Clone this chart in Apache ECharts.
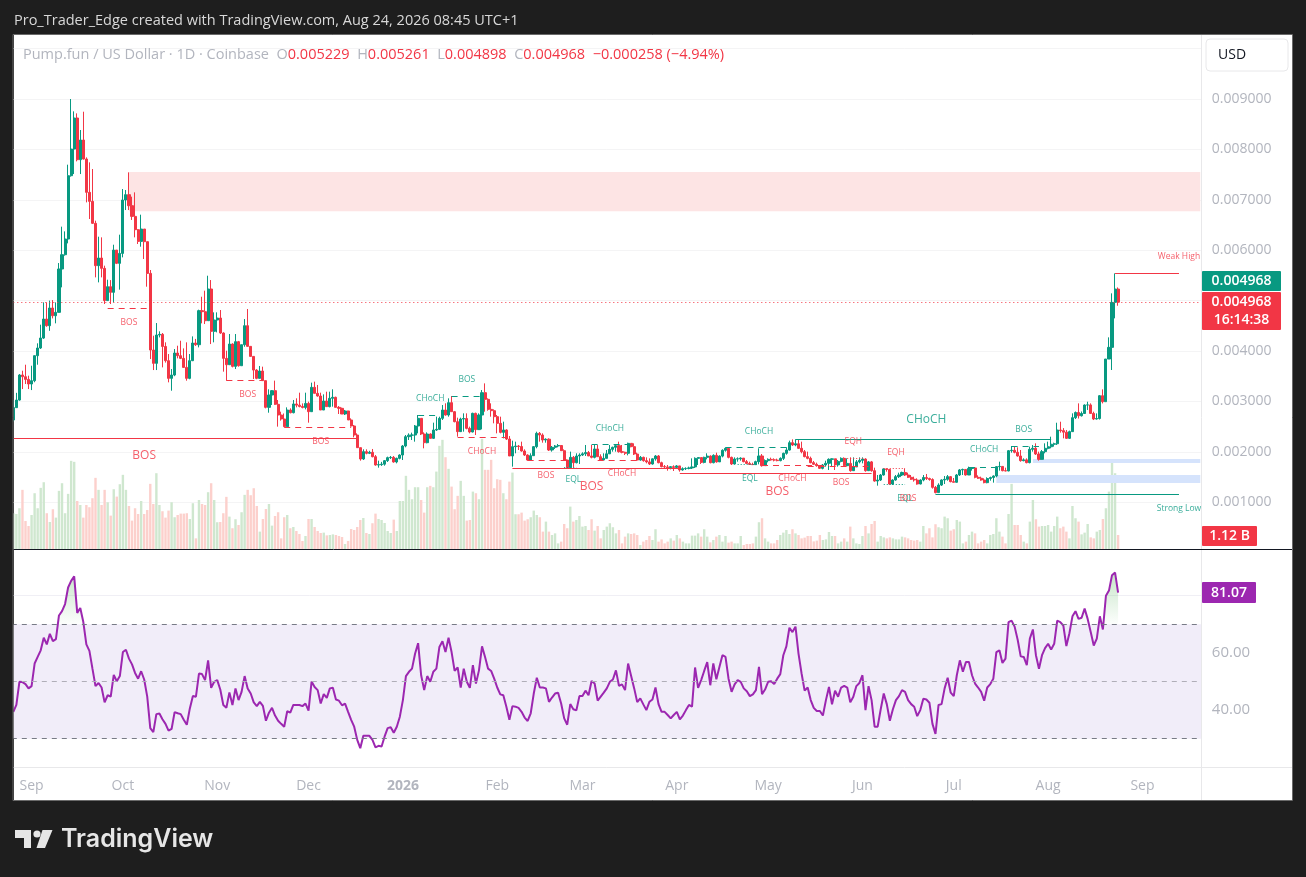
<!DOCTYPE html>
<html><head><meta charset="utf-8">
<style>html,body{margin:0;padding:0;background:#1e1e1e}#c{width:1306px;height:877px}</style>
<script src="https://cdn.jsdelivr.net/npm/echarts@6/dist/echarts.min.js"></script>
</head><body><div id="c"></div>
<script>
// Values. Prices are in millionths of a US dollar; volumes in billions.
const firstOpenMicro = 2631;
const closesMicro = [2876,3027,3524,3490,3437,3345,3411,3907,4059,4257,4634,4502,4853,4700,4767,5627,5911,6222,7478,8007,8623,7796,8186,7809,7148,6969,6533,5693,5845,5640,5000,5276,5164,6003,5739,5937,6996,7102,6883,6671,6407,6175,6420,6169,5540,4019,3755,4317,4330,4090,3808,3457,3523,3960,3907,3854,3675,3457,3808,4158,4125,4800,4780,4601,5230,4390,4615,4654,4357,3854,3728,4138,3695,4185,3708,4125,4502,4092,3893,3622,3457,3603,3412,2882,3127,3213,2942,2730,2651,2499,2829,2776,2949,2926,2900,2880,2960,2796,3279,3160,3107,2829,3008,2896,3061,3081,2882,2862,2750,2810,2631,2512,2333,2082,1857,2003,1970,1990,1903,1738,1745,1755,1824,1884,1890,1798,1870,1936,2115,2300,2330,2333,2512,2664,2353,2181,2353,2267,2432,2446,2664,2829,2730,2975,2796,2598,2400,2650,2660,2465,2393,2763,2440,2730,3173,3041,2842,2816,2697,2565,2386,2433,2254,1917,2102,2115,2105,2016,1936,1837,1923,2102,2366,2333,2234,2250,2036,2089,2115,2125,2022,1837,1685,1890,1784,1917,1936,1960,1985,1917,1890,2056,1903,1837,1870,1960,2049,2089,2122,2003,1990,1970,2168,2102,1956,1837,1890,1824,1800,1758,1860,1917,1784,1705,1700,1685,1705,1690,1720,1640,1665,1670,1680,1700,1870,1885,1790,1890,1915,1784,1930,1800,1915,2030,2068,1890,1758,1857,1860,1875,1805,1770,1750,1745,1805,1917,1725,1825,1850,1840,1835,1825,1870,1970,2035,2181,2135,2160,2069,2002,1904,1870,1785,1752,1725,1672,1738,1772,1850,1860,1740,1810,1870,1725,1770,1625,1700,1800,1830,1856,1625,1800,1625,1420,1440,1540,1660,1650,1361,1440,1507,1540,1590,1540,1494,1455,1440,1361,1440,1490,1470,1450,1295,1190,1340,1441,1454,1507,1408,1395,1540,1640,1650,1540,1670,1680,1494,1475,1440,1388,1470,1490,1520,1705,1710,1625,1620,2022,2030,1990,1917,1824,1840,1785,2049,2070,1956,1850,2003,2069,2100,2150,2160,2432,2420,2390,2267,2400,2677,2780,2715,2760,2928,2930,2762,2650,2660,3113,2994,3841,4072,4965,5229,4968];
const highsMicro = [3027,3170,3543,3609,3728,3510,3708,3912,4152,4522,4965,4965,5000,5010,4965,5745,6467,6374,7697,9000,8755,8715,8385,8748,7842,7743,7611,6586,6268,6255,5693,5415,5407,6109,6003,6308,7214,7194,7545,7062,7148,6420,6705,6420,6169,5607,4304,4555,4390,4357,4172,3940,3642,4039,4105,4204,4052,4172,3940,4290,4240,4820,5077,5197,5494,5408,4767,4767,4813,4370,4006,4337,4152,4337,4200,4125,4634,4833,4092,3900,3640,3703,3689,3412,3240,3226,3412,3028,2796,2760,2882,2862,3028,3061,3173,2960,3173,2995,3372,3392,3326,3173,3140,3193,3193,3240,3094,2908,2876,2830,2816,2664,2532,2366,2082,2049,2049,2020,2056,1936,1824,1800,1837,1904,1917,1917,1884,1950,2135,2333,2366,2380,2532,2730,2664,2386,2386,2366,2578,2697,2697,2928,2962,3061,3107,2810,2677,2677,2763,2763,2499,2776,2776,2763,3226,3358,3061,2962,2842,2730,2697,2598,2446,2313,2221,2201,2135,2201,2049,1950,1970,2115,2399,2393,2366,2267,2267,2115,2135,2155,2135,2049,1850,2003,1917,1970,1970,1990,2135,2016,2135,2135,2135,1950,1970,2036,2135,2102,2135,2201,2135,2003,2181,2168,2168,1983,1917,1904,1890,1870,1870,1936,1936,1804,1738,1738,1718,1732,1738,1718,1692,1692,1705,1870,1890,1890,1884,1903,1970,1930,1950,1983,1930,2049,2089,2089,1904,1890,1890,1890,1870,1837,1804,1784,1824,2069,1956,1850,1870,1884,1870,1864,1890,1983,2089,2221,2247,2247,2247,2201,2036,2003,1904,1818,1785,1738,1758,1824,1870,1870,1851,1837,1890,1890,1870,1890,1890,1837,1890,1890,1870,1818,1818,1685,1540,1560,1672,1672,1659,1454,1540,1586,1606,1672,1586,1540,1507,1474,1454,1540,1560,1487,1474,1322,1375,1454,1520,1540,1520,1480,1560,1659,1666,1659,1705,1692,1685,1533,1507,1474,1494,1507,1533,1718,1804,1718,1685,2036,2115,2102,2089,2036,1870,1870,2102,2135,2168,2003,2036,2168,2201,2300,2181,2577,2597,2470,2433,2420,2763,2800,2961,2800,2941,2994,2961,2796,2762,3126,3239,3841,4271,5144,5540,5261];
const lowsMicro = [2600,2876,3015,3245,3345,3245,3225,3380,3728,4040,4240,4480,4400,4647,4549,4767,5263,5891,6136,7459,7511,7763,7511,7800,6949,6619,6520,5461,5362,5461,4932,5000,4932,4965,5725,5217,5858,6797,6797,6600,6255,6123,6070,5825,5276,3841,3622,3622,4270,3675,3770,3378,3212,3500,3854,3840,3670,3411,3440,3800,4100,4072,4549,4535,4601,4138,4172,4370,4340,3590,3411,3728,3675,3642,3690,3708,4085,4085,3893,3444,3440,3458,3405,2862,2776,2929,2930,2499,2618,2499,2499,2763,2763,2882,2882,2862,2842,2578,2796,3160,3094,2829,2829,2896,2882,2896,2882,2750,2750,2730,2631,2499,2287,2082,1824,1837,1950,1955,1890,1725,1685,1720,1725,1798,1857,1784,1771,1850,1837,2089,2234,2234,2201,2366,2333,2069,2168,2267,2254,2413,2432,2631,2717,2697,2796,2585,2300,2400,2400,2446,2366,2386,2333,2446,2445,2796,2816,2697,2565,2366,2366,2267,2234,1917,1705,1970,2036,2003,1917,1824,1824,1917,2069,2201,2181,2181,2016,2003,2056,2089,2016,1824,1672,1672,1692,1771,1758,1917,1917,1917,1870,1870,1903,1824,1837,1870,1956,2003,2003,1983,1970,1936,1930,2089,1936,1824,1824,1804,1771,1738,1745,1824,1771,1692,1672,1625,1652,1619,1672,1606,1625,1639,1652,1659,1679,1738,1758,1771,1850,1771,1771,1784,1804,1890,2003,1870,1738,1745,1804,1824,1791,1758,1738,1738,1738,1758,1705,1718,1791,1824,1810,1811,1811,1837,1943,2023,2115,2110,2056,1970,1890,1851,1771,1738,1705,1659,1652,1705,1639,1718,1639,1705,1791,1705,1738,1606,1672,1725,1771,1771,1606,1619,1606,1407,1328,1421,1527,1606,1348,1341,1427,1480,1520,1520,1480,1441,1408,1348,1355,1414,1441,1427,1269,1176,1189,1322,1361,1427,1394,1394,1388,1520,1540,1527,1546,1626,1474,1461,1427,1375,1375,1427,1388,1494,1626,1613,1613,1613,1983,1970,1904,1804,1811,1771,1771,2003,1937,1824,1851,1970,2049,2069,2102,2135,2380,2267,2254,2254,2400,2650,2660,2700,2750,2830,2750,2630,2640,2640,2960,2994,3841,3623,4648,4898];
const volumesB = [2.86,2.80,3.26,4.73,2.24,1.84,2.72,4.46,3.26,4.89,5.34,2.86,2.16,3.18,2.51,4.65,5.26,2.86,4.41,7.05,6.97,3.84,3.52,2.51,3.52,3.34,4.06,5.69,4.73,3.52,4.73,3.74,2.67,4.78,4.19,5.18,5.93,4.73,3.44,2.27,3.26,2.80,3.84,2.80,3.12,5.21,3.60,6.06,3.52,3.02,2.51,3.07,3.74,2.54,2.72,2.83,2.83,2.86,2.40,3.66,0.85,3.92,3.60,3.52,4.54,5.26,3.92,2.14,2.16,2.86,4.17,2.59,1.66,2.38,1.92,2.94,4.33,4.73,4.30,4.86,3.44,1.39,2.40,3.20,3.60,1.87,2.64,2.94,0.85,2.54,2.72,1.66,1.76,1.44,1.20,0.64,1.04,2.40,2.40,1.76,1.44,1.28,1.31,1.09,1.12,1.17,1.12,1.04,0.96,0.40,0.64,1.60,1.52,1.76,2.32,2.48,1.28,1.20,2.06,2.83,2.40,2.32,2.08,1.44,1.28,2.35,1.44,3.84,3.84,5.85,4.73,3.98,4.94,4.94,3.92,2.91,4.94,5.05,4.94,6.19,8.25,8.73,7.34,6.41,4.99,3.18,4.25,5.45,4.25,2.27,2.32,4.59,4.46,3.98,8.81,6.33,6.33,7.13,4.86,5.58,5.53,4.46,3.98,5.39,6.11,2.78,2.78,2.91,2.27,2.38,2.54,3.07,2.72,2.54,1.39,2.19,1.39,1.12,1.25,0.45,0.59,2.00,1.66,3.39,2.19,2.32,2.64,1.79,1.84,1.52,2.38,1.47,1.84,0.85,1.52,1.79,2.06,1.74,1.25,1.52,0.45,0.99,1.25,1.20,1.25,1.12,0.32,0.59,0.72,1.04,0.72,1.58,0.59,0.77,0.45,0.59,0.85,0.67,1.12,0.85,0.59,0.45,0.45,1.07,1.07,1.25,0.99,1.58,0.99,0.53,0.72,0.99,1.12,0.59,1.04,0.51,0.59,0.45,0.45,1.04,0.32,0.40,0.40,0.45,0.99,2.14,2.46,0.85,0.59,0.45,0.45,0.72,1.12,1.31,1.52,1.20,1.58,1.25,1.12,0.85,0.91,1.04,1.04,0.61,0.67,1.12,0.72,0.77,1.36,1.04,1.04,0.45,0.59,0.85,0.59,1.79,0.85,0.45,0.40,1.04,1.84,1.25,2.00,2.24,0.59,1.04,0.93,0.85,0.93,0.85,0.77,0.77,0.99,0.93,0.85,0.72,0.67,0.72,0.59,1.84,1.25,1.66,0.93,1.98,1.74,1.66,2.59,2.46,1.47,1.58,2.32,2.19,0.45,0.59,1.12,1.39,1.25,0.45,0.59,0.72,0.45,1.12,1.20,2.46,1.39,0.99,0.45,2.80,5.21,1.92,1.92,1.12,0.59,0.45,2.19,3.92,2.38,1.79,1.84,1.84,1.92,1.39,1.84,2.59,1.66,1.79,1.39,0.85,3.44,2.46,2.19,1.17,1.31,2.00,0.93,0.85,1.39,1.52,2.40,3.26,4.59,7.18,6.06,1.12];
const rsiValues = [39.4,41.8,49.9,49.8,49.1,47.6,48.4,56.3,58.6,60.9,65.3,63.0,66.7,64.1,64.8,73.1,74.6,77.1,82.9,85.2,86.8,74.0,75.7,70.8,63.0,60.7,54.5,48.4,49.5,47.9,42.7,45.2,44.7,52.3,50.1,51.9,60.3,61.1,58.0,56.0,53.0,51.0,53.6,50.7,44.7,33.7,32.3,38.6,38.8,36.8,35.2,32.8,33.4,39.3,38.9,38.6,36.6,34.9,40.6,44.9,44.7,52.8,52.6,50.5,57.4,47.8,49.9,50.5,47.2,41.8,40.8,46.2,41.8,47.6,43.5,46.4,51.9,47.6,45.8,42.7,41.4,42.9,41.5,36.3,39.1,40.8,38.1,36.3,35.2,34.2,39.6,39.1,41.8,41.8,41.8,41.4,42.3,39.8,50.0,48.1,47.0,42.3,45.6,44.3,47.6,47.8,43.7,43.3,41.7,42.3,39.4,36.6,34.2,29.6,26.7,31.0,31.0,31.0,29.6,27.0,27.5,27.3,30.8,33.7,34.0,32.1,34.2,37.7,43.5,51.9,53.4,54.5,59.7,63.4,52.2,47.0,51.9,49.9,53.4,54.5,62.1,
64.1,60.3,65.3,60.3,53.7,54.9,47.9,54.5,49.9,47.8,55.7,49.3,53.9,62.3,58.6,54.5,53.7,51.0,47.9,45.5,45.2,41.2,36.6,41.4,41.2,40.8,39.4,37.4,36.2,38.9,45.8,51.3,47.9,47.9,47.6,42.9,44.4,45.8,46.1,42.3,37.1,34.9,42.1,40.3,39.9,44.9,44.9,46.8,45.2,50.2,49.3,43.3,44.7,46.1,47.6,49.9,50.7,53.9,48.5,49.0,47.0,56.3,51.9,47.6,42.8,44.1,42.0,40.0,42.9,43.7,47.9,42.1,39.4,39.4,38.3,37.1,38.3,39.4,36.8,38.1,40.0,41.8,41.2,54.9,47.8,50.5,53.7,56.8,48.7,56.3,50.8,55.1,59.2,58.6,51.0,46.4,49.0,50.5,49.9,47.6,46.6,44.9,45.5,47.0,55.1,45.6,47.2,49.9,50.1,49.1,51.0,52.6,59.2,62.3,68.8,67.3,69.2,59.7,52.8,46.8,47.9,43.5,40.8,39.7,39.7,38.1,43.5,48.1,42.0,46.8,44.7,47.9,48.5,47.9,42.7,44.7,48.4,49.5,52.2,40.0,48.4,
43.5,34.2,34.2,40.3,45.8,42.1,36.3,40.3,43.5,44.9,47.0,46.4,43.5,42.1,41.2,37.9,40.0,44.0,43.7,42.6,35.2,31.7,41.8,42.1,47.6,51.3,46.1,44.9,52.2,57.4,53.4,56.8,56.8,52.2,49.3,47.9,46.4,43.3,47.9,49.1,51.0,60.3,60.9,56.5,58.0,70.8,71.3,69.2,64.6,58.8,58.6,55.7,65.0,68.2,59.2,54.5,59.2,61.7,63.2,61.2,63.2,71.3,70.8,69.6,62.4,66.9,72.8,74.6,71.9,72.3,75.5,71.9,67.3,62.6,65.0,72.8,68.2,80.0,81.8,87.2,88.1,81.07];
const priceTicks = [0.001,0.002,0.003,0.004,0.005,0.006,0.007,0.008,0.009];
const rsiTicks = [40,60];
const SLOTS = 391;                 // bars plus the empty run-out on the right
const lastPrice = 0.004968;

// start index, end index, price (micro), colour, line type
const levelLines = [
 [0,113,2268,'r','solid'],[31,44,4847,'r','dashed'],[70,82,3423,'r','dashed'],[89,111,2486,'r','dashed'],
 [133,140,2730,'g','dashed'],[144,154,3100,'g','dashed'],[146,162,2290,'r','dashed'],[164,219,1672,'r','solid'],
 [219,282,1574,'r','solid'],[169,182,1837,'r','dashed'],[190,203,2148,'g','dashed'],[192,206,1837,'r','dashed'],
 [234,254,2089,'g','dashed'],[246,268,1732,'r','dashed'],[257,341,2248,'g','solid'],[303,383,1157,'g','solid'],
 [362,383,5537,'r','solid'],[261,281,1718,'r','dashed'],[314,324,1687,'g','dashed'],[328,337,2115,'g','dashed'],
 [181,185,1698,'g','dotted'],[238,245,1758,'g','dotted'],[286,293,1361,'g','dotted'],[273,280,1877,'r','dotted'],[286,293,1679,'r','dotted']
];
// index, price (micro), text, colour, font size
const levelLabels = [
 [43,1917,'BOS','r',12],[38,4556,'BOS','r',8.5],[77,3127,'BOS','r',8.5],[101,2194,'BOS','r',8.5],[137,3048,'CHoCH','g',8.5],
 [149,3425,'BOS','g',8.5],[154,1996,'CHoCH','r',8.5],[175,1520,'BOS','r',8.5],[184,1440,'EQL','g',8.5],[190,1302,'BOS','r',12],
 [196,2452,'CHoCH','g',8.5],[200,1560,'CHoCH','r',8.5],[245,2393,'CHoCH','g',8.5],[242,1460,'EQL','g',8.5],[256,1460,'CHoCH','r',8.5],
 [251,1202,'BOS','r',12],[276,2194,'EQH','r',8.5],[290,1976,'EQH','r',8.5],[272,1381,'BOS','r',8.5],[293,1063,'EQL','g',8.5],
 [294,1063,'BOS','r',8.5],[300,2631,'CHoCH','g',12],[332,2432,'BOS','g',8.5],[319,2036,'CHoCH','g',8.5],[383,5865,'Weak High','r',8.5],[383,865,'Strong Low','g',8.5]
];
// start index, price top, price bottom (micro), fill
const zones = [[38,7551,6775,'#fde4e4'],[335,1857,1778,'#d5e3fc'],[323,1540,1381,'#d5e3fc']];

const UP='#089981', DOWN='#f23645', GREY='#b2b5be', PURPLE='#9c27b0';
const UP_VOL='#cfe7cf', DOWN_VOL='#fcd0cc';
const FONT='"Open Sans", "Liberation Sans", sans-serif';
const colorOf = k => k==='r'?DOWN:UP;
const px = v => v*1e-6;
const dashOf = t => t==='dashed'?[6,5]:(t==='dotted'?[1,2]:'solid');

const categories=[]; { const d0=Date.UTC(2025,7,26);
  for(let i=0;i<SLOTS;i++){ categories.push(new Date(d0+i*864e5).toISOString().slice(0,10)); } }
const opensMicro = closesMicro.map((c,i)=> i===0?firstOpenMicro:closesMicro[i-1]);
const candles = closesMicro.map((c,i)=>[px(opensMicro[i]),px(c),px(lowsMicro[i]),px(highsMicro[i])]);
const volumeData = volumesB.map((v,i)=>({value:v,itemStyle:{color:closesMicro[i]>=opensMicro[i]?UP_VOL:DOWN_VOL}}));
const monthNames=['Jan','Feb','Mar','Apr','May','Jun','Jul','Aug','Sep','Oct','Nov','Dec'];

function tag(x,y,w,h,fill,texts){ const out=[{type:'rect',z:90,silent:true,shape:{x,y,width:w,height:h,r:1},style:{fill}}];
  texts.forEach(t=>out.push({type:'text',z:91,silent:true,x:x+w/2,y:t[0],style:{text:t[1],fill:'#fff',font:'600 14px '+FONT,align:'center',verticalAlign:'middle'}}));
  return out; }

const option={
 animation:false, backgroundColor:'#1e1e1e',
 title:{left:23,top:47,padding:0,text:'{g|Pump.fun / US Dollar · 1D · Coinbase  O}{r|0.005229}{g|  H}{r|0.005261}{g|  L}{r|0.004898}{g|  C}{r|0.004968  −0.000258 (−4.94%)}',
   textStyle:{fontWeight:'normal',rich:{g:{color:GREY,fontSize:14.5,fontWeight:'normal',fontFamily:FONT},r:{color:DOWN,fontSize:14.5,fontWeight:'normal',fontFamily:FONT}}}},
 grid:[{left:11.8,top:35,width:1190,height:517.6},{left:11.8,top:550,width:1190,height:217.3}],
 xAxis:[
  {type:'category',gridIndex:0,data:categories,show:false,boundaryGap:true},
  {type:'category',gridIndex:1,data:categories,boundaryGap:true,axisTick:{show:false},axisLine:{lineStyle:{color:'#e8e8ea'}},splitLine:{show:false},
   axisLabel:{color:GREY,fontFamily:FONT,fontSize:14,margin:12,hideOverlap:false,
    interval:(idx,val)=>val.slice(8)==='01',
    formatter:val=>{const m=+val.slice(5,7);return m===1?'{b|'+val.slice(0,4)+'}':monthNames[m-1];},
    rich:{b:{fontWeight:'bold',color:GREY,fontFamily:FONT,fontSize:14}}}}
 ],
 yAxis:[
  {type:'value',gridIndex:0,position:'right',min:0,max:0.01027,interval:0.001,axisLine:{show:false},axisTick:{show:false},
   splitLine:{show:true,showMinLine:false,showMaxLine:false,lineStyle:{color:'#f4f4f5'}},
   axisLabel:{color:GREY,fontFamily:FONT,fontSize:14,margin:10,padding:[2,0,0,0],showMinLabel:false,showMaxLabel:false,
     formatter:v=>priceTicks.some(t=>Math.abs(t-v)<1e-7)?v.toFixed(6):''}},
  {type:'value',gridIndex:0,show:false,min:-0.288,max:41.1,splitLine:{show:false}},
  {type:'value',gridIndex:1,position:'right',min:20,max:96,interval:20,axisLine:{show:false},axisTick:{show:false},
   splitLine:{show:true,showMinLine:false,showMaxLine:false,lineStyle:{color:'#f0eff5'}},
   axisLabel:{color:GREY,fontFamily:FONT,fontSize:15,margin:10,padding:[3,0,0,0],showMinLabel:false,showMaxLabel:false,
     formatter:v=>rsiTicks.includes(v)?v.toFixed(2):''}}
 ],
 series:[
  {type:'bar',name:'Volume',xAxisIndex:0,yAxisIndex:1,data:volumeData,barWidth:2.4,z:1,silent:true},
  {type:'candlestick',name:'Price',xAxisIndex:0,yAxisIndex:0,data:candles,barWidth:2.6,z:3,silent:true,
   itemStyle:{color:UP,color0:DOWN,borderColor:UP,borderColor0:DOWN,borderWidth:1},
   markArea:{silent:true,z:2,data:zones.map(z=>[{coord:[categories[z[0]],px(z[1])],itemStyle:{color:z[3]}},{coord:[categories[SLOTS-1],px(z[2])]}])},
   markLine:{silent:true,symbol:'none',label:{show:false},animation:false,
    data:levelLines.map(l=>[{coord:[categories[l[0]],px(l[2])],lineStyle:{color:colorOf(l[3]),type:dashOf(l[4]),width:1}},{coord:[categories[l[1]],px(l[2])]}])
      .concat([[{coord:[categories[0],lastPrice],lineStyle:{color:DOWN,type:[1,3],width:1}},{coord:[categories[SLOTS-1],lastPrice]}]])}},
  {type:'scatter',name:'Labels',xAxisIndex:0,yAxisIndex:0,symbolSize:0,z:5,silent:true,
   data:levelLabels.map(l=>({value:[categories[l[0]],px(l[1])],label:{show:true,position:'inside',formatter:l[2],color:colorOf(l[3]),fontSize:l[4],fontFamily:FONT}}))},
  {type:'line',name:'Overbought',xAxisIndex:1,yAxisIndex:2,data:rsiValues.map(v=>Math.max(v,70)),showSymbol:false,symbol:'none',lineStyle:{width:0},z:2,silent:true,
   areaStyle:{origin:70,color:{type:'linear',x:0,y:0,x2:0,y2:1,colorStops:[{offset:0,color:'rgba(76,175,80,0.45)'},{offset:1,color:'rgba(76,175,80,0.02)'}]}}},
  {type:'line',name:'RSI',xAxisIndex:1,yAxisIndex:2,data:rsiValues,showSymbol:false,symbol:'none',lineStyle:{color:PURPLE,width:2},z:3,silent:true,
   markArea:{silent:true,data:[[{yAxis:30,itemStyle:{color:'#f1edf9'}},{yAxis:70}]]},
   markLine:{silent:true,symbol:'none',label:{show:false},
    data:[{yAxis:70,lineStyle:{color:'#787b86',type:[5,5],width:1}},{yAxis:50,lineStyle:{color:'#b0aeb8',type:[5,5],width:1}},{yAxis:30,lineStyle:{color:'#787b86',type:[5,5],width:1}}]}}
 ],
 graphic:[
  {type:'rect',z:-10,silent:true,shape:{x:14,y:35,width:1278,height:765},style:{fill:'#ffffff'}},
  {type:'rect',z:80,silent:true,shape:{x:0,y:35,width:13.5,height:770},style:{fill:'#1e1e1e'}},
  {type:'rect',z:81,silent:true,shape:{x:13,y:34.5,width:1279.5,height:766},style:{fill:'none',stroke:'#6a6a6a',lineWidth:1}},
  {type:'line',z:82,silent:true,shape:{x1:1201.5,y1:35,x2:1201.5,y2:800},style:{stroke:'#e8e8ea',lineWidth:1}},
  {type:'line',z:82,silent:true,shape:{x1:1201.5,y1:767.5,x2:1292,y2:767.5},style:{stroke:'#e8e8ea',lineWidth:1}},
  {type:'line',z:83,silent:true,shape:{x1:14,y1:549.5,x2:1292,y2:549.5},style:{stroke:'#131722',lineWidth:1}},
  {type:'text',z:90,silent:true,x:14,y:21,style:{text:'Pro_Trader_Edge created with TradingView.com, Aug 24, 2026 08:45 UTC+1',fill:'#d8d8d8',font:'14.5px '+FONT,verticalAlign:'middle'}},
  {type:'rect',z:90,silent:true,shape:{x:1206,y:39,width:82,height:32,r:4},style:{fill:'#fff',stroke:'#e8e8ea',lineWidth:1}},
  {type:'text',z:91,silent:true,x:1218,y:55,style:{text:'USD',fill:'#131722',font:'14px '+FONT,verticalAlign:'middle'}},
  ...tag(1202,271,79,20,UP,[[281,'0.004968']]),
  ...tag(1202,292,79,38,DOWN,[[302,'0.004968'],[320,'16:14:38']]),
  ...tag(1202,526,55,20,DOWN,[[536.5,'1.12 B']]),
  ...tag(1202,582,54,21,PURPLE,[[593,'81.07']]),
  {type:'polygon',z:90,silent:true,shape:{points:[[15,830],[31,830],[31,848],[24,848],[24,838],[15,838]]},style:{fill:'#e6e6e6'}},
  {type:'polygon',z:90,silent:true,shape:{points:[[42.5,830],[52.5,830],[45,848],[36.5,848]]},style:{fill:'#e6e6e6'}},
  {type:'circle',z:90,silent:true,shape:{cx:37,cy:834,r:3.6},style:{fill:'#e6e6e6'}},
  {type:'text',z:90,silent:true,x:61,y:839,style:{text:'TradingView',fill:'#e6e6e6',font:'600 25px Inter, '+FONT,verticalAlign:'middle'}}
 ]
};
echarts.init(document.getElementById('c'),null,{renderer:'canvas'}).setOption(option);
</script></body></html>
